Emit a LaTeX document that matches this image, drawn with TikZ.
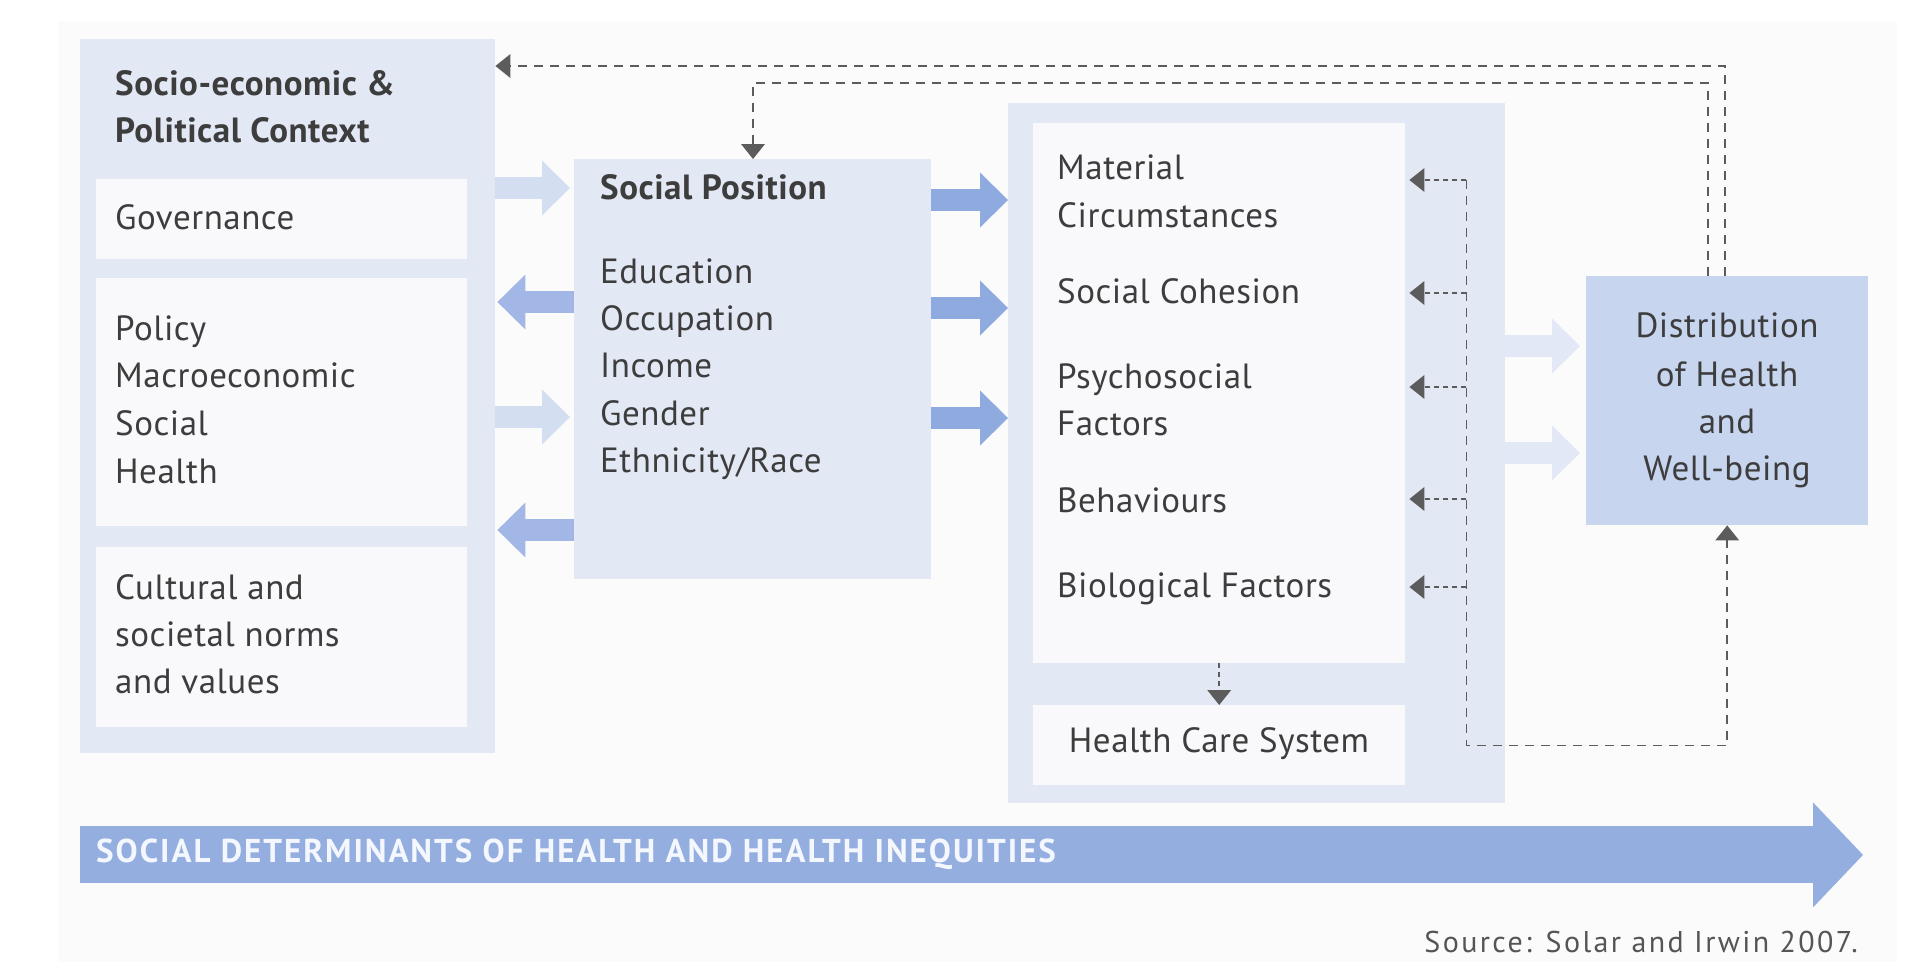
\documentclass[tikz,border=0pt]{standalone}
\usepackage{fontspec}
\setmainfont{PT Sans}[LetterSpace=1.5]
\newfontfamily\sdhfont{PT Sans}[LetterSpace=6]
\newfontfamily\srcfont{PT Sans}[LetterSpace=8]
\usetikzlibrary{arrows.meta,calc}
\definecolor{panel}{HTML}{E3E8F5}
\definecolor{wbox}{HTML}{F9F9FB}
\definecolor{bgfaint}{HTML}{FBFBFC}
\definecolor{alight}{HTML}{D4DEF1}
\definecolor{amid}{HTML}{8EAADE}
\definecolor{aleft}{HTML}{A2B7E5}
\definecolor{apale}{HTML}{E2E8F6}
\definecolor{distfill}{HTML}{C8D5EF}
\definecolor{bigarrow}{HTML}{94AEE0}
\definecolor{dashgrey}{HTML}{5C5C5C}
\definecolor{textgrey}{HTML}{3D3D3D}
\definecolor{srcgrey}{HTML}{555555}
\definecolor{sdhwhite}{HTML}{F4F7FD}
\newcommand{\bodyf}{\fontsize{35}{42}\selectfont}
\newcommand{\arrf}{\sdhfont\fontsize{33}{40}\selectfont\bfseries}
\newcommand{\srcf}{\srcfont\fontsize{30}{36}\selectfont}
\begin{document}
\begin{tikzpicture}[x=1pt,y=-1pt,
  box/.style={draw=none, inner sep=0pt, anchor=north west},
  txt/.style={anchor=base west, inner sep=0pt, font=\bodyf, text=textgrey},
  ctxt/.style={anchor=base, inner sep=0pt, font=\bodyf, text=textgrey},
  blk/.style={line width=22pt, line cap=butt},
  btip/.style={-{Triangle[width=55pt,length=28pt,line width=0pt]}},
  fb/.style={draw=dashgrey, line width=1.8pt, dash pattern=on 9pt off 7pt},
  fbs/.style={draw=dashgrey, line width=1.6pt, dash pattern=on 5pt off 4pt},
  dtip/.style={-{Triangle[width=24pt,length=15pt,line width=0pt]}}]
\fill[white] (0,0) rectangle (1922,962);
\useasboundingbox (0,0) rectangle (1922,962);
\fill[bgfaint] (58,21) rectangle (1897,962);

% panels
\node[box, fill=panel, minimum width=415pt, minimum height=714pt] (ctx) at (80,39) {};
\node[box, fill=wbox, minimum width=371pt, minimum height=80pt] (gov) at (96,179) {};
\node[box, fill=wbox, minimum width=371pt, minimum height=248pt] (pol) at (96,278) {};
\node[box, fill=wbox, minimum width=371pt, minimum height=180pt] (cul) at (96,547) {};
\node[box, fill=panel, minimum width=357pt, minimum height=420pt] (sp) at (574,159) {};
\node[box, fill=panel, minimum width=497pt, minimum height=700pt] (rp) at (1008,103) {};
\node[box, fill=wbox, minimum width=372pt, minimum height=540pt] (inner) at (1033,123) {};
\node[box, fill=wbox, minimum width=372pt, minimum height=80pt] (hcs) at (1033,705) {};
\node[box, fill=distfill, minimum width=282pt, minimum height=249pt] (dist) at (1586,276) {};

% block arrows context <-> social position
\draw[blk, draw=alight, btip] ($(ctx.north east)+(0,149)$) -- ($(sp.north west)+(-4,29)$);
\draw[blk, draw=aleft, btip] ($(sp.north west)+(0,143)$) -- ($(ctx.north east)+(2,263)$);
\draw[blk, draw=alight, btip] ($(ctx.north east)+(0,378)$) -- ($(sp.north west)+(-4,258)$);
\draw[blk, draw=aleft, btip] ($(sp.north west)+(0,371)$) -- ($(ctx.north east)+(2,491)$);
% social position -> right panel
\draw[blk, draw=amid, btip] ($(sp.north east)+(0,41)$) -- ($(rp.north west)+(0,97)$);
\draw[blk, draw=amid, btip] ($(sp.north east)+(0,149)$) -- ($(rp.north west)+(0,205)$);
\draw[blk, draw=amid, btip] ($(sp.north east)+(0,259)$) -- ($(rp.north west)+(0,315)$);
% right panel -> distribution
\draw[blk, draw=apale, btip] ($(rp.north east)+(0,243)$) -- ($(dist.north west)+(-6,70)$);
\draw[blk, draw=apale, btip] ($(rp.north east)+(0,350)$) -- ($(dist.north west)+(-6,177)$);

% big bottom arrow
\draw[line width=57pt, line cap=butt, draw=bigarrow, -{Triangle[width=105pt,length=50pt,line width=0pt]}]
  ($(ctx.south west)+(0,101.5)$) -- ($(ctx.south west)+(1783,101.5)$);

% feedback dashed lines
\draw[fb, dtip] ($(dist.north west)+(139,0)$) |- ($(ctx.north east)+(0,27)$);
\draw[fb, dtip] ($(dist.north west)+(122,0)$) |- ($(sp.north west)+(179,-76)$) -- ($(sp.north west)+(179,0)$);
\draw[fb, dtip] ($(inner.north east)+(61,57)$) -- ($(inner.south east)+(61,82)$) -| (dist.south);
\foreach \yy in {57,170,264,376,464}{
  \draw[fbs, dtip] ($(inner.north east)+(61,\yy)$) -- ($(inner.north east)+(4,\yy)$);
}
\draw[fbs, dtip] (inner.south) -- (hcs.north);

% texts
\node[txt, font=\bodyf\bfseries] (t1) at (115,95) {Socio-economic \&};
\node[txt, font=\bodyf\bfseries] (t2) at (115,142) {Political Context};
\node[txt] (g1) at (115,229) {Governance};
\node[txt] (p1) at (115,340) {Policy};
\node[txt] (p2) at (115,387) {Macroeconomic};
\node[txt] (p3) at (115,435) {Social};
\node[txt] (p4) at (115,483) {Health};
\node[txt] (c1) at (115,599) {Cultural and};
\node[txt] (c2) at (115,646) {societal norms};
\node[txt] (c3) at (115,693) {and values};
\node[txt, font=\bodyf\bfseries] (s0) at (600,199) {Social Position};
\node[txt] (s1) at (600,283) {Education};
\node[txt] (s2) at (600,330) {Occupation};
\node[txt] (s3) at (600,377) {Income};
\node[txt] (s4) at (600,425) {Gender};
\node[txt] (s5) at (600,472) {Ethnicity/Race};
\node[txt] (r1) at (1057,179) {Material};
\node[txt] (r2) at (1057,227) {Circumstances};
\node[txt] (r3) at (1057,303) {Social Cohesion};
\node[txt] (r4) at (1057,388) {Psychosocial};
\node[txt] (r5) at (1057,435) {Factors};
\node[txt] (r6) at (1057,512) {Behaviours};
\node[txt] (r7) at (1057,597) {Biological Factors};
\node[ctxt] (h1) at (1219,752) {Health Care System};
\node[ctxt] (d1) at (1727,337) {Distribution};
\node[ctxt] (d2) at (1727,386) {of Health};
\node[ctxt] (d3) at (1727,433) {and};
\node[ctxt] (d4) at (1727,480) {Well-being};
\node[anchor=base west, inner sep=0pt, font=\arrf, text=sdhwhite] (sdh) at (96,862) {SOCIAL DETERMINANTS OF HEALTH AND HEALTH INEQUITIES};
\node[anchor=base east, inner sep=0pt, font=\srcf, text=srcgrey] (src) at (1858,952) {Source: Solar and Irwin 2007.};
\end{tikzpicture}
\end{document}
